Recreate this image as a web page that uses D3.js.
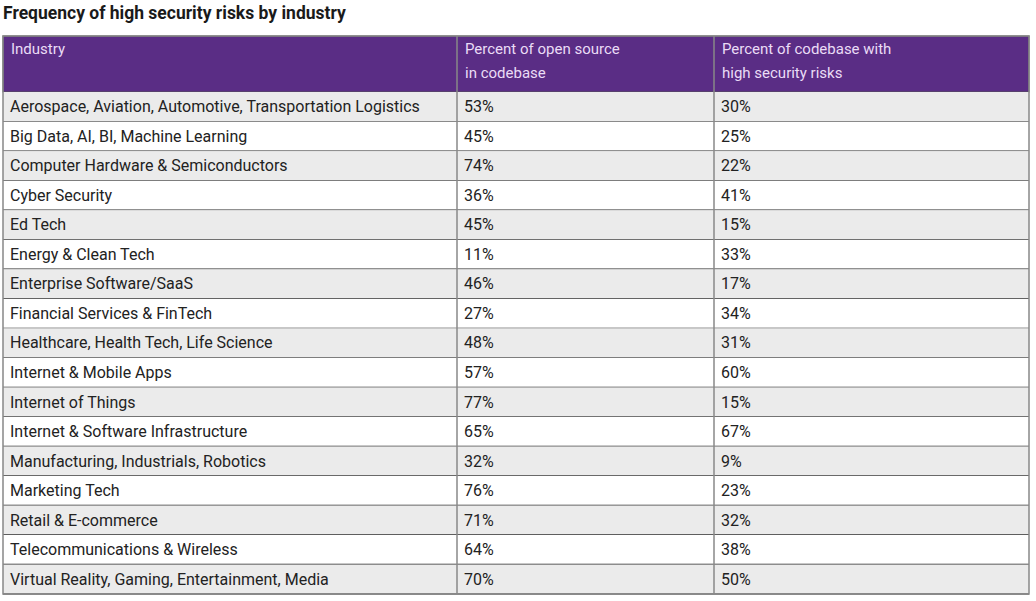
<!DOCTYPE html>
<html><head><meta charset="utf-8">
<script src="https://cdn.jsdelivr.net/npm/d3@7"></script>
<style>body{margin:0;background:#fff}svg{display:block;font-family:Roboto,sans-serif}</style>
</head><body><svg id="chart" width="1036" height="601"></svg>
<script>
// table data
var industries = ["Aerospace, Aviation, Automotive, Transportation Logistics","Big Data, AI, BI, Machine Learning",
  "Computer Hardware & Semiconductors","Cyber Security","Ed Tech","Energy & Clean Tech","Enterprise Software/SaaS",
  "Financial Services & FinTech","Healthcare, Health Tech, Life Science","Internet & Mobile Apps","Internet of Things",
  "Internet & Software Infrastructure","Manufacturing, Industrials, Robotics","Marketing Tech","Retail & E-commerce",
  "Telecommunications & Wireless","Virtual Reality, Gaming, Entertainment, Media"];
var openSource = [53,45,74,36,45,11,46,27,48,57,77,65,32,76,71,64,70];
var highRisk = [30,25,22,41,15,33,17,34,31,60,15,67,9,23,32,38,50];
var headers = [["Industry"],["Percent of open source","in codebase"],["Percent of codebase with","high security risks"]];

var svg = d3.select("#chart");
var colX = [3, 457, 714, 1029];
var headTop = 36, headBot = 92, tableBot = 594;

svg.append("text").attr("x",3).attr("y",19).attr("font-size",17.5).attr("font-weight",700)
  .attr("fill","#1a1a1a").text("Frequency of high security risks by industry");

// header
svg.append("rect").attr("x",colX[0]).attr("y",headTop).attr("width",colX[3]-colX[0]).attr("height",headBot-headTop)
  .attr("fill","#5a2d85").attr("stroke","#555");
headers.forEach(function(h,i){
  h.forEach(function(line,j){
    svg.append("text").attr("x",colX[i]+8).attr("y",headTop+18+j*24).attr("font-size",15)
      .attr("fill","#eadcf6").text(line);
  });
});

var y = d3.scaleBand().domain(d3.range(industries.length)).range([headBot, tableBot]);
var rows = svg.append("g").selectAll("g").data(industries).join("g")
  .attr("transform",function(d,i){return "translate(0,"+y(i)+")";});
rows.append("rect").attr("x",colX[0]).attr("width",colX[3]-colX[0]).attr("height",y.bandwidth())
  .attr("fill",function(d,i){return i%2===0?"#ebebeb":"#ffffff";});
rows.append("line").attr("x1",colX[0]).attr("x2",colX[3]).attr("y1",y.bandwidth()).attr("y2",y.bandwidth())
  .attr("stroke","#222").attr("stroke-width",1.2);
var cols = [industries, openSource.map(function(v){return v+"%";}), highRisk.map(function(v){return v+"%";})];
cols.forEach(function(c,ci){
  rows.append("text").attr("x",colX[ci]+7).attr("y",y.bandwidth()/2+5.5).attr("font-size",16)
    .attr("fill","#222").text(function(d,i){return c[i];});
});

// vertical dividers and outer border
[colX[1],colX[2]].forEach(function(x){
  svg.append("line").attr("x1",x).attr("x2",x).attr("y1",headTop).attr("y2",tableBot).attr("stroke","#888").attr("stroke-width",1.5);
});
svg.append("rect").attr("x",colX[0]).attr("y",headTop).attr("width",colX[3]-colX[0]).attr("height",tableBot-headTop)
  .attr("fill","none").attr("stroke","#888").attr("stroke-width",1.5);
</script></body></html>
